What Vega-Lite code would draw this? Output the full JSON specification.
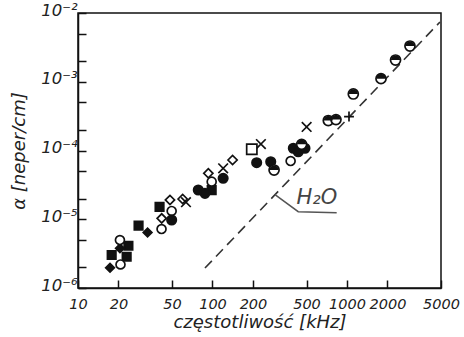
{
  "$schema": "https://vega.github.io/schema/vega-lite/v6.json",
  "autosize": {"type": "none"},
  "padding": {"left": 78, "top": 13, "right": 23, "bottom": 49},
  "width": 363,
  "height": 275,
  "background": "white",
  "config": {
    "view": {"stroke": "#111", "strokeWidth": 1.5},
    "font": "DejaVu Sans",
    "axis": {
      "domainColor": "#111", "domainWidth": 1.5, "tickColor": "#111", "tickWidth": 1.5,
      "labelColor": "#222", "labelFontStyle": "italic", "labelFontSize": 14.5, "labelFont": "DejaVu Sans",
      "titleColor": "#222", "titleFontStyle": "italic", "titleFontWeight": "normal", "titleFontSize": 18, "titleFont": "DejaVu Sans",
      "grid": false
    }
  },
  "datasets": {
    "pts": [
      {"f": 17.8, "a": 3.02e-6, "t": "fsq"},
      {"f": 23.7, "a": 4.12e-6, "t": "fsq"},
      {"f": 23.0, "a": 2.85e-6, "t": "fsq"},
      {"f": 28.2, "a": 8.1e-6, "t": "fsq"},
      {"f": 40.4, "a": 1.51e-5, "t": "fsq"},
      {"f": 98.6, "a": 2.66e-5, "t": "fsq"},
      {"f": 17.3, "a": 1.97e-6, "t": "fdi"},
      {"f": 32.9, "a": 6.41e-6, "t": "fdi"},
      {"f": 20.5, "a": 3.78e-6, "t": "fdi"},
      {"f": 20.7, "a": 2.2e-6, "t": "oci"},
      {"f": 20.5, "a": 4.99e-6, "t": "oci"},
      {"f": 41.8, "a": 7.21e-6, "t": "oci"},
      {"f": 49.7, "a": 1.32e-5, "t": "oci"},
      {"f": 98.6, "a": 3.52e-5, "t": "oci"},
      {"f": 381, "a": 7.03e-5, "t": "oci"},
      {"f": 41.9, "a": 1.03e-5, "t": "odi"},
      {"f": 48.3, "a": 1.91e-5, "t": "odi"},
      {"f": 60.0, "a": 1.97e-5, "t": "odi"},
      {"f": 93.1, "a": 4.66e-5, "t": "odi"},
      {"f": 141, "a": 7.28e-5, "t": "odi"},
      {"f": 49.7, "a": 9.75e-6, "t": "fci"},
      {"f": 78.4, "a": 2.66e-5, "t": "fci"},
      {"f": 87.9, "a": 2.38e-5, "t": "fci"},
      {"f": 120, "a": 3.94e-5, "t": "fci"},
      {"f": 213, "a": 6.65e-5, "t": "fci"},
      {"f": 271, "a": 6.87e-5, "t": "fci"},
      {"f": 399, "a": 1.08e-4, "t": "fci"},
      {"f": 434, "a": 9.6e-5, "t": "fci"},
      {"f": 487, "a": 1.08e-4, "t": "fci"},
      {"f": 63.5, "a": 1.77e-5, "t": "xcr"},
      {"f": 120, "a": 5.51e-5, "t": "xcr"},
      {"f": 229, "a": 1.24e-4, "t": "xcr"},
      {"f": 501, "a": 2.2e-4, "t": "xcr"},
      {"f": 1035, "a": 3.12e-4, "t": "pls"},
      {"f": 287, "a": 5.2e-5, "t": "hci"},
      {"f": 460, "a": 1.23e-4, "t": "hci"},
      {"f": 726, "a": 2.73e-4, "t": "hci"},
      {"f": 828, "a": 2.82e-4, "t": "hci"},
      {"f": 1114, "a": 6.64e-4, "t": "hci"},
      {"f": 1790, "a": 1.11e-3, "t": "hci"},
      {"f": 2296, "a": 2.07e-3, "t": "hci"},
      {"f": 2939, "a": 3.31e-3, "t": "hci"},
      {"f": 196, "a": 1.04e-4, "t": "osq"}
    ],
    "h2o": [
      {"f": 87.9, "a": 1.95e-6},
      {"f": 4913, "a": 7.4e-3}
    ],
    "leader": [
      {"f": 291.5, "a": 2.28e-5, "o": 1},
      {"f": 434, "a": 1.29e-5, "o": 2},
      {"f": 838, "a": 1.245e-5, "o": 3}
    ],
    "lbl": [
      {"f": 598, "a": 2.04e-5, "txt": "H₂O"}
    ]
  },
  "encoding": {
    "x": {
      "field": "f", "type": "quantitative",
      "scale": {"type": "log", "domain": [10, 5000], "nice": false},
      "axis": {
        "title": "częstotliwość [kHz]",
        "values": [10, 20, 50, 100, 200, 500, 1000, 2000, 5000],
        "format": "d",
        "tickSize": -8, "labelPadding": 17, "titlePadding": 3, "labelFlush": false, "labelOverlap": false
      }
    },
    "y": {
      "field": "a", "type": "quantitative",
      "scale": {"type": "log", "domain": [0.000001, 0.01], "nice": false},
      "axis": {
        "title": "α [neper/cm]",
        "values": [0.000001, 0.000002, 0.000005, 0.00001, 0.00002, 0.00005, 0.0001, 0.0002, 0.0005, 0.001, 0.002, 0.005, 0.01],
        "labelExpr": "['10⁻⁶','10⁻⁵','10⁻⁴','10⁻³','10⁻²'][indexof([0.000001,0.00001,0.0001,0.001,0.01], datum.value)] || ''",
        "tickSize": -8, "labelPadding": 9, "labelOffset": -3, "titlePadding": 12, "labelFlush": false, "labelOverlap": false, "labelFontSize": 16.5
      }
    }
  },
  "layer": [
    {
      "data": {"name": "h2o"},
      "mark": {"type": "line", "color": "#333", "strokeWidth": 1.6, "strokeDash": [10, 6]},
      "encoding": {}
    },
    {
      "data": {"name": "leader"},
      "mark": {"type": "line", "color": "#555", "strokeWidth": 1.5},
      "encoding": {"order": {"field": "o", "type": "quantitative"}}
    },
    {
      "data": {"name": "lbl"},
      "mark": {"type": "text", "fontSize": 21, "fontStyle": "italic", "color": "#444", "font": "DejaVu Sans"},
      "encoding": {"text": {"field": "txt"}}
    },
    {
      "data": {"name": "pts"},
      "mark": {"type": "point", "filled": false, "stroke": "#111", "strokeWidth": 1.7, "opacity": 1},
      "encoding": {
        "shape": {
          "field": "t", "type": "nominal", "legend": null,
          "scale": {
            "domain": ["fsq", "fdi", "oci", "odi", "fci", "xcr", "pls", "hci", "osq"],
            "range": ["square", "diamond", "circle", "diamond", "circle", "M-1,-1L1,1M-1,1L1,-1", "M-1,0L1,0M0,-1L0,1", "circle", "square"]
          }
        },
        "fill": {
          "field": "t", "type": "nominal", "legend": null,
          "scale": {
            "domain": ["fsq", "fdi", "oci", "odi", "fci", "xcr", "pls", "hci", "osq"],
            "range": ["#111", "#111", "#fff", "#fff", "#111", "transparent", "transparent", "#fff", "#fff"]
          }
        },
        "size": {
          "field": "t", "type": "nominal", "legend": null,
          "scale": {
            "domain": ["fsq", "fdi", "oci", "odi", "fci", "xcr", "pls", "hci", "osq"],
            "range": [72, 105, 66, 105, 66, 24, 32, 66, 66]
          }
        }
      }
    },
    {
      "data": {"name": "pts"},
      "transform": [{"filter": "datum.t == 'hci'"}],
      "mark": {"type": "point", "filled": true, "fill": "#111", "strokeWidth": 0, "opacity": 1, "shape": "M-1,0A1,1,0,0,1,1,0Z", "size": 84},
      "encoding": {}
    }
  ]
}
